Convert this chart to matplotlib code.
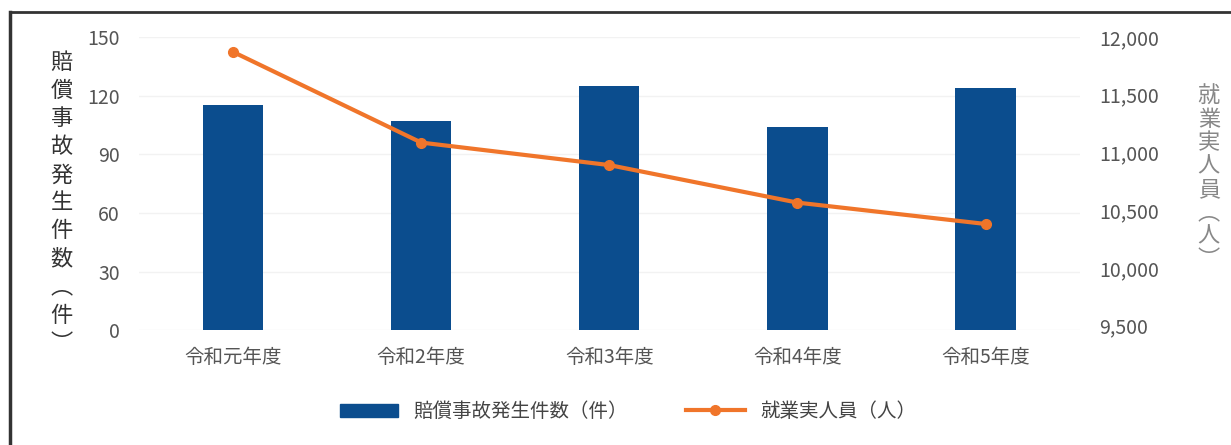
import matplotlib.pyplot as plt
import numpy as np
from matplotlib.lines import Line2D

plt.rcParams['font.family'] = ['Noto Sans CJK JP', 'DejaVu Sans']

# データ
years = ["令和元年度", "令和2年度", "令和3年度", "令和4年度", "令和5年度"]
accidents = [115, 107, 125, 104, 124]
workers = [11870, 11085, 10890, 10565, 10380]

bar_color = "#0b4d8e"
line_color = "#f0752a"
text_color = "#555555"

fig = plt.figure(figsize=(12.31, 4.45), dpi=100)
ax = fig.add_axes([0.113, 0.258, 0.764, 0.659])
ax2 = ax.twinx()

x = np.arange(len(years))
ax.bar(x, accidents, width=0.32, color=bar_color, zorder=2)
ax2.plot(x, workers, color=line_color, linewidth=3, marker="o", markersize=7, zorder=3)

ax.set_xlim(-0.5, len(years) - 0.5)
ax.set_ylim(0, 150)
ax.set_yticks(range(0, 151, 30))
ax2.set_ylim(9460, 11960)
ax2.set_yticks(range(9500, 12001, 500))
ax2.set_yticklabels([f"{v:,}" for v in range(9500, 12001, 500)])

ax.set_xticks(x)
ax.set_xticklabels(years)
ax.grid(axis="y", color="#f2f2f2", linewidth=1, zorder=0)
ax.set_axisbelow(True)

for a in (ax, ax2):
    for s in a.spines.values():
        s.set_visible(False)
    a.tick_params(length=0, labelsize=14, colors=text_color)
ax.tick_params(axis="y", pad=14)
ax.tick_params(axis="x", pad=12)
ax2.tick_params(axis="y", pad=14)

# 縦書きの軸ラベル
fig.text(0.05, 0.885, "\n".join("賠償事故発生件数︵件︶"), fontsize=16, color="#333333",
         ha="center", va="top", linespacing=1.28)
fig.text(0.982, 0.81, "\n".join("就業実人員︵人︶"), fontsize=16, color="#888888",
         ha="center", va="top", linespacing=1.02)

# 凡例
handles = [
    plt.Rectangle((0, 0), 1, 1, color=bar_color),
    Line2D([0], [0], color=line_color, linewidth=3, marker="o", markersize=7),
]
fig.legend(handles, ["賠償事故発生件数（件）", "就業実人員（人）"], loc="center",
           bbox_to_anchor=(0.51, 0.075), ncol=2, frameon=False, fontsize=14,
           labelcolor="#444444", handlelength=3, columnspacing=3)

# 枠線
fig.add_artist(Line2D([0.008, 0.008], [0, 0.973], color="#333333", linewidth=2.5))
fig.add_artist(Line2D([0.008, 1], [0.973, 0.973], color="#333333", linewidth=2))

fig.savefig("out.png", dpi=100)
